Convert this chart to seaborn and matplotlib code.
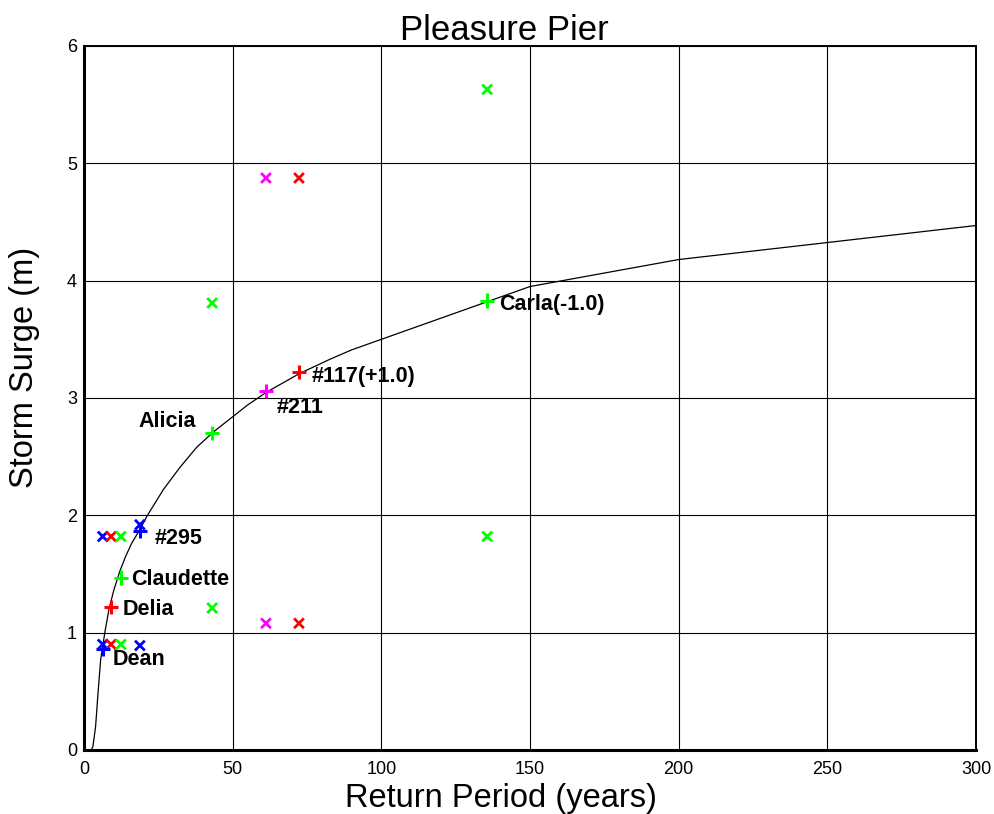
import numpy as np
import pandas as pd
import matplotlib
matplotlib.use("Agg")
import matplotlib.pyplot as plt
import seaborn as sns

# Fitted surge vs. return period curve
curve_period = [2.4, 3.0, 3.9, 4.7, 5.6, 7.0, 8.4, 10.0, 12.0, 14.0, 16.0, 18.8,
                21.1, 26.7, 32.3, 37.9, 43.5, 50.0, 55.0, 61.4, 72.6, 82.7, 90.0,
                150.0, 200.0, 300.0]
curve_surge = [0.0, 0.03, 0.20, 0.48, 0.77, 1.00, 1.20, 1.36, 1.52, 1.65, 1.76, 1.88,
               1.99, 2.22, 2.41, 2.58, 2.71, 2.84, 2.94, 3.05, 3.21, 3.33, 3.41,
               3.95, 4.18, 4.47]

# Named storms placed on the curve
storm_names = ["Dean", "Delia", "Claudette", "#295", "Alicia", "#211",
               "#117(+1.0)", "Carla(-1.0)"]
storm_period = [6.4, 9.1, 12.4, 18.8, 43.1, 61.2, 72.3, 135.6]
storm_surge = [0.86, 1.22, 1.47, 1.87, 2.70, 3.06, 3.22, 3.83]
storm_group = ["blue", "red", "green", "blue", "green", "magenta", "red", "green"]

# Label anchor points (left edge, vertical centre) in data units
label_x = [9.75, 13.1, 15.8, 23.9, 18.2, 64.9, 76.4, 139.6]
label_y = [0.77, 1.20, 1.45, 1.80, 2.80, 2.92, 3.18, 3.80]

# Upper / lower bound points
bound_period = [135.6, 61.2, 72.3, 43.1, 135.6, 18.8, 6.3, 9.1, 12.4,
                43.1, 61.2, 72.3, 6.3, 9.1, 12.4, 18.8]
bound_surge = [5.63, 4.875, 4.875, 3.81, 1.82, 1.92, 1.82, 1.82, 1.82,
               1.21, 1.08, 1.08, 0.90, 0.90, 0.90, 0.89]
bound_group = ["green", "magenta", "red", "green", "green", "blue", "blue", "red",
               "green", "green", "magenta", "red", "blue", "red", "green", "blue"]

palette = {"blue": "#0000ff", "red": "#ff0000", "green": "#00ff00",
           "magenta": "#ff00ff"}

sns.set_theme(style="white")
plt.rcParams["font.family"] = ["Liberation Sans", "DejaVu Sans"]
plt.rcParams["text.color"] = "black"

fig = plt.figure(figsize=(9.95, 8.14), dpi=100)
ax = fig.add_axes([84 / 995, 64 / 814, 892 / 995, 704 / 814])

curve_df = pd.DataFrame({"period": curve_period, "surge": curve_surge})
storm_df = pd.DataFrame({"period": storm_period, "surge": storm_surge,
                         "group": storm_group})
bound_df = pd.DataFrame({"period": bound_period, "surge": bound_surge,
                         "group": bound_group})

sns.lineplot(data=curve_df, x="period", y="surge", sort=False, estimator=None,
             color="black", linewidth=0.9, ax=ax)
sns.scatterplot(data=bound_df, x="period", y="surge", hue="group",
                palette=palette, marker="x", s=50, linewidth=2.0,
                legend=False, ax=ax, zorder=3)
sns.scatterplot(data=storm_df, x="period", y="surge", hue="group",
                palette=palette, marker="+", s=110, linewidth=2.2,
                legend=False, ax=ax, zorder=4)

for name, lx, ly in zip(storm_names, label_x, label_y):
    ax.text(lx, ly, name, fontsize=15.5, fontweight="bold", ha="left",
            va="center", color="black")

ax.set_xlim(0, 300)
ax.set_ylim(0, 6)
ax.set_xticks(np.arange(0, 301, 50))
ax.set_yticks(np.arange(0, 7, 1))
ax.grid(True, color="black", linewidth=0.8)
ax.set_axisbelow(True)
ax.tick_params(axis="both", length=0, labelsize=13, colors="black")
ax.tick_params(axis="x", pad=8)
ax.tick_params(axis="y", pad=5)
ax.set_xlabel("")
ax.set_ylabel("")

for side in ["left", "bottom"]:
    ax.spines[side].set_linewidth(2.2)
    ax.spines[side].set_color("black")
for side in ["top", "right"]:
    ax.spines[side].set_linewidth(1.4)
    ax.spines[side].set_color("black")

fig.text(504 / 995, 1 - 40 / 814, "Pleasure Pier", fontsize=25, ha="center",
         va="baseline", color="black")
fig.text(501 / 995, 1 - 798 / 814, "Return Period (years)", fontsize=23.5,
         ha="center", va="center", color="black")
fig.text(25 / 995, 1 - 367 / 814, "Storm Surge (m)", fontsize=23.5,
         ha="center", va="center", rotation=90, color="black")

fig.savefig("out.png", dpi=100)
